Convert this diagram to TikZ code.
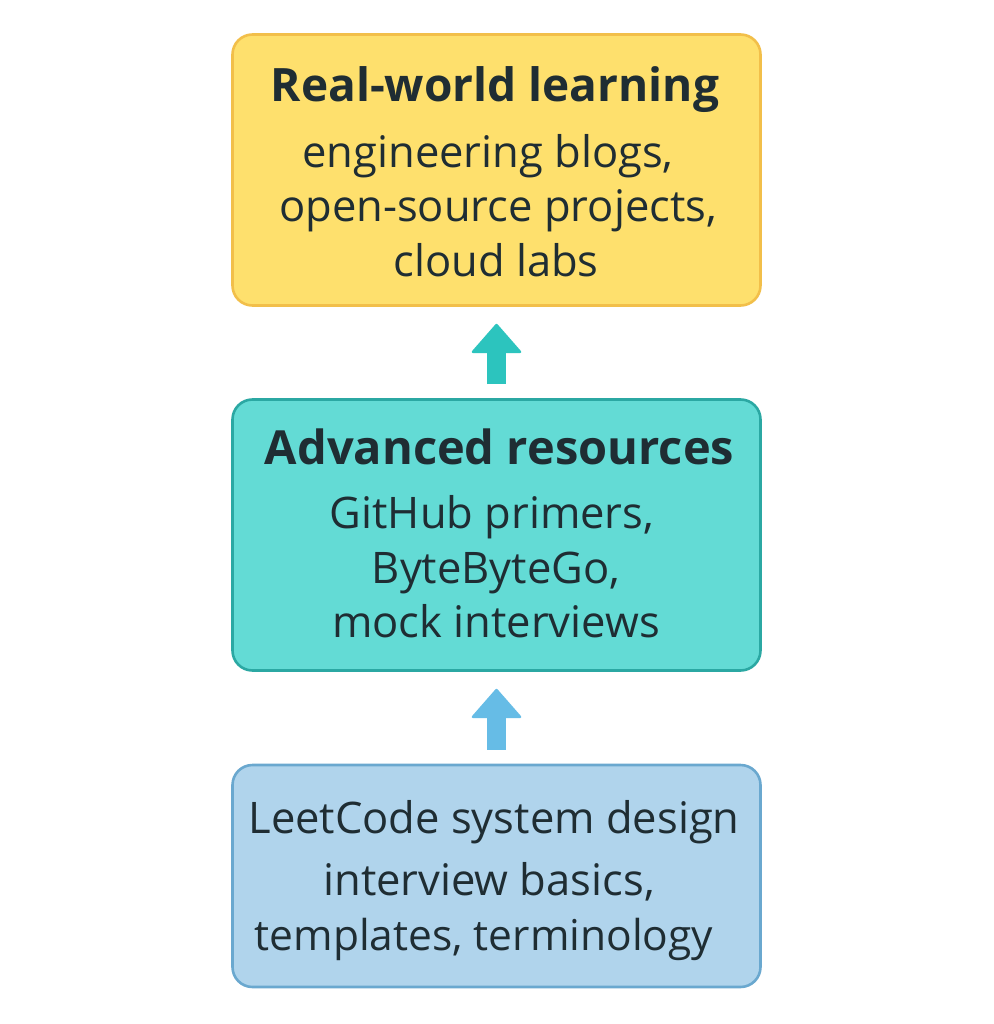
\documentclass[tikz,border=0pt]{standalone}
\usepackage{fontspec}
\usetikzlibrary{arrows.meta}
\setmainfont{Open Sans}
\definecolor{txt}{HTML}{1F2D33}
\definecolor{yf}{HTML}{FEE06D}\definecolor{yd}{HTML}{F2BF4A}
\definecolor{tf}{HTML}{63DBD5}\definecolor{td}{HTML}{2BA8A3}
\definecolor{bf}{HTML}{B0D4EC}\definecolor{bd}{HTML}{6AA8CF}
\definecolor{ta}{HTML}{2CC4BE}\definecolor{ba}{HTML}{66BCE6}
\tikzset{x=1pt,y=-1pt,
 card/.style={draw,line width=2.6pt,rounded corners=20pt,minimum width=528pt,inner sep=0pt},
 ttl/.style={text=txt,font=\fontsize{46}{46}\selectfont\bfseries\strut,inner sep=0pt},
 ttlb/.style={text=txt,font=\fontsize{47}{47}\selectfont\bfseries\strut,inner sep=0pt},
 bod/.style={text=txt,font=\fontsize{43.5}{44}\selectfont\strut,inner sep=0pt},
 bodsm/.style={text=txt,font=\fontsize{42.5}{44}\selectfont\strut,inner sep=0pt},
 uparrow/.style={line width=19pt,-{Triangle[width=52pt,length=30pt,line width=2.5pt,round]}}}
\begin{document}
\begin{tikzpicture}
\useasboundingbox (0,0) rectangle (993,1024);
\fill[white] (0,0) rectangle (993,1024);
\node[card,fill=yf,draw=yd,minimum height=271pt] (a) at (496.5,170) {};
\node[card,fill=tf,draw=td,minimum height=271pt] (b) at (496.5,535) {};
\node[card,fill=bf,draw=bd,minimum height=222pt] (c) at (496.5,876) {};
\node[ttl] (a1) at (495,91) {Real-world learning};
\node[bod] (a2) at (488,158) {engineering blogs,};
\node[bod] (a3) at (498,212) {open-source projects,};
\node[bod] (a4) at (496,267) {cloud labs};
\node[ttlb] (b1) at (499.5,454) {Advanced resources};
\node[bod] (b2) at (492,519) {GitHub primers,};
\node[bod] (b3) at (496,574) {ByteByteGo,};
\node[bod] (b4) at (496,628) {mock interviews};
\node[bod] (c1) at (494,824) {LeetCode system design};
\node[bod] (c2) at (489,886) {interview basics,};
\node[bodsm] (c3) at (484,941) {templates, terminology};
\draw[uparrow,draw=ta,shorten <=14pt,shorten >=17pt] (b.north) -- (a.south);
\draw[uparrow,draw=ba,shorten <=14pt,shorten >=17pt] (c.north) -- (b.south);
\end{tikzpicture}
\end{document}
